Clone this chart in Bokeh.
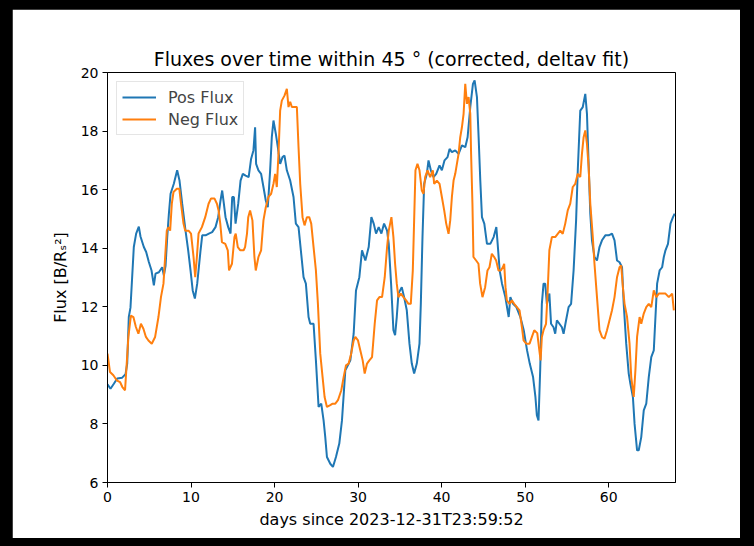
from bokeh.plotting import figure
from bokeh.models import Range1d, FixedTicker, Legend, LegendItem, GlobalInlineStyleSheet
from bokeh.embed import file_html
from bokeh.resources import INLINE

# ---- data ----
pos_days = [0.0, 0.36, 0.76, 1.16, 1.76, 2.16, 2.36, 2.55, 2.75, 2.95, 3.15, 3.43, 3.75, 3.95, 4.35, 4.63,
            4.95, 5.27, 5.55, 5.75, 6.15, 6.55, 6.75, 6.95, 7.15, 7.35, 7.55, 7.94, 8.34, 8.62, 8.94, 9.34,
            9.66, 9.94, 10.2, 10.46, 10.74, 11.14, 11.34, 11.74, 12.14, 12.53, 12.93, 13.25, 13.53, 13.73,
            13.93, 14.13, 14.45, 14.73, 14.93, 15.13, 15.33, 15.65, 15.93, 16.2, 16.53, 16.9, 17.19, 17.47,
            17.67, 17.79, 18.07, 18.39, 18.67, 18.95, 19.19, 19.47, 19.67, 19.87, 20.15, 20.39, 20.67, 20.95,
            21.19, 21.47, 21.87, 22.27, 22.55, 22.87, 23.19, 23.47, 23.75, 24.07, 24.27, 24.67, 24.95, 25.27,
            25.59, 25.87, 26.07, 26.27, 26.67, 26.99, 27.35, 27.75, 28.07, 28.47, 28.67, 29.07, 29.47, 29.75,
            30.15, 30.47, 30.87, 31.27, 31.59, 31.87, 32.15, 32.47, 32.79, 33.11, 33.47, 33.67, 33.95, 34.23,
            34.43, 34.63, 34.83, 35.23, 35.51, 35.83, 36.15, 36.43, 36.71, 37.03, 37.35, 37.51, 37.71, 37.91,
            38.23, 38.43, 38.71, 39.03, 39.35, 39.75, 40.03, 40.35, 40.71, 40.95, 41.23, 41.63, 42.03, 42.43,
            42.83, 43.11, 43.43, 43.75, 43.95, 44.23, 44.43, 44.63, 44.83, 45.11, 45.43, 45.83, 46.23, 46.55,
            46.71, 46.95, 47.23, 47.63, 48.03, 48.23, 48.55, 48.95, 49.43, 49.83, 50.23, 50.55, 50.95, 51.23,
            51.4, 51.6, 51.8, 52.0, 52.2, 52.4, 52.6, 52.9, 53.1, 53.4, 53.6, 53.8, 54.1, 54.4, 54.6, 54.9,
            55.2, 55.5, 55.8, 56.1, 56.3, 56.6, 56.9, 57.2, 57.4, 57.6, 57.8, 58.0, 58.3, 58.6, 58.9, 59.2,
            59.6, 60.0, 60.4, 60.7, 61.0, 61.3, 61.6, 61.8, 62.1, 62.4, 62.6, 62.9, 63.1, 63.4, 63.6, 63.9,
            64.2, 64.5, 64.8, 65.1, 65.4, 65.6, 65.8, 66.1, 66.4, 66.6, 66.8, 67.1, 67.4, 67.7, 67.9]
pos_flux = [9.35, 9.2, 9.37, 9.55, 9.58, 9.7, 10.06, 11.65, 11.97, 13.0, 14.04, 14.5, 14.74, 14.4, 14.04, 13.87,
            13.53, 13.24, 12.73, 13.13, 13.18, 13.35, 13.07, 13.4, 14.38, 15.18, 15.86, 16.2, 16.66, 16.31, 15.52, 14.6,
            13.93, 13.24, 12.56, 12.28, 12.79, 13.93, 14.44, 14.44, 14.5, 14.55, 14.72, 15.06, 15.63, 15.97,
            15.52, 15.06, 14.72, 14.5, 15.75, 15.75, 14.84, 15.52, 16.31, 16.54, 16.48, 16.43, 17.05, 17.34,
            18.13, 16.88, 16.66, 16.54, 16.09, 15.63, 15.4, 16.66, 17.79, 18.36, 17.91, 17.45, 16.88, 17.11,
            17.16, 16.66, 16.31, 15.75, 14.84, 14.72, 13.81, 13.01, 12.79, 11.65, 11.42, 11.42, 10.17, 8.58,
            8.69, 8.12, 7.55, 6.87, 6.64, 6.53, 6.87, 7.33, 8.12, 9.83, 9.94, 10.17, 11.08, 12.56,
            13.01, 13.93, 13.58, 14.04, 15.06, 14.84, 14.5, 14.72, 14.5, 14.84, 14.6, 14.15, 12.79, 11.2,
            11.03, 11.65, 12.45, 12.67, 12.33, 11.88, 10.74, 10.06, 9.72, 10.06, 10.74, 12.1, 14.38, 16.2,
            16.54, 17.0, 16.66, 16.43, 16.54, 16.83, 16.66, 17.0, 17.11, 17.39, 17.28, 17.34, 17.22, 17.51,
            17.45, 17.79, 18.82, 19.61, 19.73, 19.16, 17.79, 16.31, 15.06, 14.84, 14.15, 14.15, 14.38, 14.72,
            14.15, 13.24, 12.79, 12.33, 11.65, 12.33, 12.1, 11.99, 11.65, 11.2, 10.51, 10.06, 9.6, 8.92,
            8.3, 8.12, 9.83, 12.1, 12.79, 12.79, 12.1, 12.45, 11.42, 11.3, 11.08, 11.54, 11.42, 11.3, 11.08, 11.54,
            11.99, 12.1, 13.24, 14.95, 16.66, 18.7, 18.82, 19.27, 18.59, 16.88, 15.18, 14.27, 13.7, 13.58, 14.04, 14.27,
            14.44, 14.44, 14.5, 14.27, 13.58, 13.52, 13.35, 12.1, 10.74, 9.72, 9.37, 8.92, 8.0, 7.1, 7.1, 7.55,
            8.46, 8.69, 9.6, 10.28, 10.51, 11.65, 12.79, 13.24, 13.35, 13.7, 13.93, 14.15, 14.84, 15.06, 15.18]

neg_days = [0.0, 0.3, 0.7, 1.1, 1.5, 1.78, 2.1, 2.3, 2.5, 2.8, 3.1, 3.4, 3.7, 4.0, 4.3, 4.6, 4.9, 5.3, 5.7,
            6.1, 6.4, 6.7, 6.9, 7.1, 7.3, 7.5, 7.7, 7.9, 8.3, 8.6, 8.8, 9.1, 9.3, 9.7, 10.0, 10.3, 10.5,
            10.7, 10.9, 11.3, 11.7, 12.1, 12.4, 12.8, 13.1, 13.3, 13.5, 13.7, 14.1, 14.4, 14.55, 14.9, 15.2,
            15.35, 15.6, 15.9, 16.3, 16.47, 16.7, 16.85, 17.07, 17.35, 17.59, 17.75, 18.07, 18.39, 18.67,
            18.95, 19.27, 19.59, 19.87, 20.07, 20.27, 20.47, 20.67, 20.87, 21.19, 21.47, 21.67, 21.87, 22.07,
            22.39, 22.67, 22.87, 23.07, 23.35, 23.59, 23.87, 24.15, 24.39, 24.67, 24.95, 25.19, 25.47, 25.75,
            25.99, 26.27, 26.67, 26.95, 27.27, 27.59, 27.99, 28.27, 28.55, 28.87, 29.17, 29.47, 29.67, 29.99,
            30.27, 30.55, 30.79, 31.07, 31.35, 31.67, 31.99, 32.27, 32.55, 32.87, 33.19, 33.47, 33.67, 33.99,
            34.23, 34.43, 34.63, 34.83, 35.11, 35.43, 35.75, 36.03, 36.31, 36.55, 36.71, 36.87, 37.11, 37.35,
            37.63, 37.83, 38.03, 38.31, 38.63, 38.95, 39.11, 39.43, 39.75, 40.03, 40.31, 40.55, 40.83, 41.03,
            41.23, 41.43, 41.63, 41.83, 42.03, 42.23, 42.43, 42.63, 42.83, 43.03, 43.23, 43.43, 43.53, 43.69,
            43.81, 44.13, 44.41, 44.61, 44.89, 45.21, 45.49, 45.73, 46.01, 46.29, 46.53, 46.81, 47.09, 47.33,
            47.49, 47.65, 47.81, 48.13, 48.41, 48.69, 49.01, 49.33, 49.61, 49.81, 50.13, 50.53, 50.81, 51.09,
            51.45, 51.7, 51.85, 52.0, 52.2, 52.5, 52.7, 52.9, 53.2, 53.6, 53.9, 54.2, 54.5, 54.8, 55.1, 55.4,
            55.7, 56.0, 56.3, 56.6, 56.8, 57.0, 57.2, 57.4, 57.6, 57.8, 58.1, 58.3, 58.6, 58.9, 59.2, 59.5,
            59.8, 60.1, 60.4, 60.7, 61.0, 61.3, 61.5, 61.7, 61.9, 62.2, 62.5, 62.7, 63.0, 63.2, 63.4, 63.7,
            63.9, 64.2, 64.5, 64.8, 65.1, 65.4, 65.7, 66.0, 66.4, 66.8, 67.2, 67.6, 67.8]
neg_flux = [10.4, 9.77, 9.66, 9.49, 9.43, 9.26, 9.15, 10.06, 10.97, 11.7, 11.65, 11.31, 11.08, 11.42, 11.25, 10.97, 10.85, 10.74, 10.97,
            11.65, 12.33, 12.79, 13.7, 14.6, 14.72, 14.6, 15.52, 15.92, 16.03, 16.03, 15.52, 14.84, 14.6, 14.6, 14.5, 13.7, 13.01,
            13.7, 14.5, 14.72, 15.06, 15.52, 15.7, 15.7, 15.52, 15.29, 14.84, 14.21, 14.15, 13.93, 13.24, 13.47, 14.38,
            14.5, 14.04, 13.93, 13.93, 14.04, 14.5, 15.06, 15.29, 14.95, 13.7, 13.24, 13.7, 13.93, 14.95,
            15.4, 15.75, 15.86, 16.2, 16.54, 16.09, 17.22, 18.7, 19.04, 19.21, 19.44, 18.82, 19.0, 18.82,
            18.82, 18.82, 17.45, 16.2, 15.06, 14.78, 15.06, 15.06, 14.84, 14.04, 13.24, 12.1, 10.4, 9.6,
            8.92, 8.58, 8.64, 8.69, 8.69, 8.81, 9.15, 9.6, 10.0, 10.06, 10.4, 10.85, 10.97, 10.85,
            10.51, 10.17, 9.72, 10.06, 10.17, 10.28, 11.42, 12.22, 12.33, 12.33, 13.01, 14.04, 14.6, 15.06,
            14.38, 13.47, 12.79, 12.33, 12.45, 12.33, 12.22, 12.1, 12.1, 13.24, 14.95, 16.66, 16.88, 16.66,
            15.97, 15.86, 16.43, 16.66, 16.43, 16.66, 16.2, 16.31, 16.2, 15.75, 15.29, 14.84, 14.49, 14.95,
            15.75, 16.31, 16.54, 16.88, 17.22, 17.79, 18.13, 18.59, 19.61, 18.93, 19.16, 18.59, 17.22, 15.52,
            13.7, 13.58, 13.47, 12.79, 12.33, 12.67, 13.24, 13.35, 13.81, 13.7, 13.58, 13.24, 13.24, 13.35,
            13.47, 12.67, 12.22, 12.1, 12.22, 12.1, 11.99, 11.88, 11.31, 10.85, 10.74, 10.74, 10.97, 11.2,
            11.1, 10.51, 10.17, 10.97, 11.2, 11.42, 12.56, 13.93, 14.38, 14.38, 14.49, 14.6, 14.49, 14.84, 15.29, 15.52,
            16.09, 16.2, 16.54, 16.43, 17.22, 17.79, 18.02, 17.56, 16.77, 15.52, 14.38, 13.47, 12.33, 11.2, 10.97, 10.91,
            11.2, 11.54, 11.88, 12.33, 13.01, 13.35, 13.41, 12.67, 12.1, 11.65, 10.74, 9.6, 8.92, 9.83, 10.97, 11.65,
            11.42, 11.77, 11.99, 12.1, 11.99, 12.56, 12.33, 12.45, 12.45, 12.45, 12.33, 12.45, 11.88]

x_ticks = [0, 10, 20, 30, 40, 50, 60]
y_ticks = [6, 8, 10, 12, 14, 16, 18, 20]

title_text = "Fluxes over time within 45 ° (corrected, deltav fit)"
x_label = "days since 2023-12-31T23:59:52"
y_label = "Flux [B/Rₛ²]"

FONT = "DejaVu Sans"

p = figure(width=728, height=529, output_backend="svg", toolbar_location=None,
           x_range=Range1d(0, 68), y_range=Range1d(6, 20),
           min_border_left=95, min_border_right=65, min_border_top=63, min_border_bottom=56,
           background_fill_color="white", border_fill_color="white")

p.title.text = title_text
p.title.align = "center"
p.title.text_font = FONT
p.title.text_font_size = "19px"
p.title.text_font_style = "normal"
p.title.text_color = "black"
p.title.standoff = 5

p.xgrid.visible = False
p.ygrid.visible = False
p.outline_line_color = "black"
p.outline_line_width = 1
p.outline_line_alpha = 1.0

for ax in (p.xaxis[0], p.yaxis[0]):
    ax.major_tick_out = 5
    ax.major_tick_in = 0
    ax.minor_tick_out = 0
    ax.minor_tick_in = 0
    ax.axis_line_color = "black"
    ax.major_tick_line_color = "black"
    ax.major_label_text_font = FONT
    ax.major_label_text_font_size = "14px"
    ax.major_label_text_color = "black"
    ax.axis_label_text_font = FONT
    ax.axis_label_text_font_size = "16px"
    ax.axis_label_text_font_style = "normal"
    ax.axis_label_text_color = "black"
    ax.major_label_standoff = 4

p.xaxis[0].ticker = FixedTicker(ticks=x_ticks)
p.yaxis[0].ticker = FixedTicker(ticks=y_ticks)
p.xaxis[0].axis_label = x_label
p.yaxis[0].axis_label = y_label
p.xaxis[0].axis_label_standoff = 5
p.yaxis[0].axis_label_standoff = 8

r_pos = p.line(pos_days, pos_flux, line_color="#1f77b4", line_width=2)
r_neg = p.line(neg_days, neg_flux, line_color="#ff7f0e", line_width=2)

legend = Legend(items=[LegendItem(label="Pos Flux", renderers=[r_pos]),
                       LegendItem(label="Neg Flux", renderers=[r_neg])],
                location="top_left")
legend.margin = 9
legend.padding = 5
legend.spacing = 2
legend.label_height = 20
legend.glyph_height = 20
legend.glyph_width = 34
legend.label_standoff = 12
legend.label_text_font = FONT
legend.label_text_font_size = "16px"
legend.border_line_color = "#cccccc"
legend.border_line_width = 1
legend.background_fill_alpha = 0.8
p.add_layout(legend, "center")

p.stylesheets = [GlobalInlineStyleSheet(css="html, body { background-color: #000000; }")]
p.styles = {"margin-left": "12px", "margin-top": "9px"}

open("out.html", "w").write(file_html(p, INLINE))
